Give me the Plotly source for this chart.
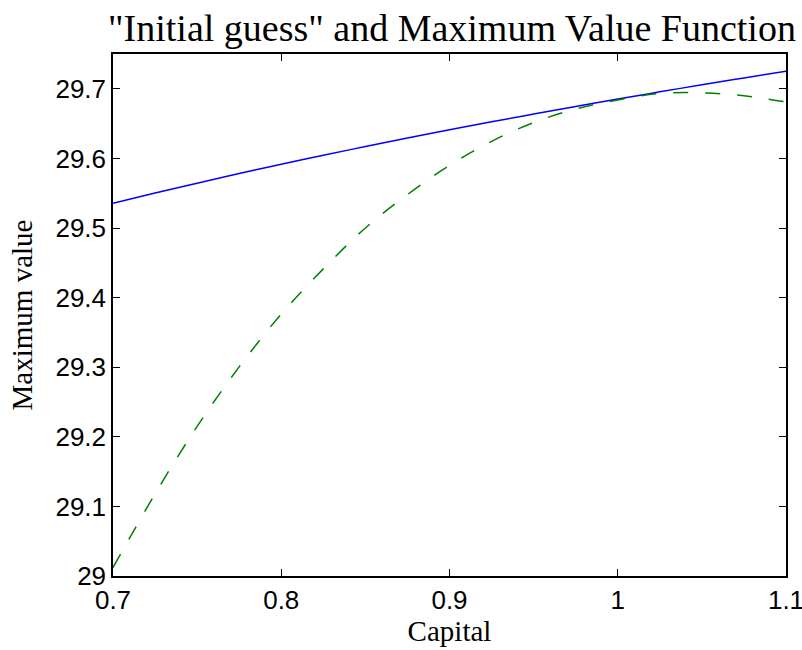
import plotly.graph_objects as go

# Data
capital_blue = [0.700, 0.725, 0.750, 0.775, 0.800, 0.825, 0.850, 0.875, 0.900,
                0.925, 0.950, 0.975, 1.000, 1.025, 1.050, 1.075, 1.100]
value_max = [29.5355, 29.5502, 29.5644, 29.5782, 29.5916, 29.6045, 29.6170, 29.6292, 29.6410,
             29.6525, 29.6637, 29.6746, 29.6853, 29.6956, 29.7058, 29.7156, 29.7253]

capital_guess = [0.700, 0.725, 0.750, 0.775, 0.800, 0.825, 0.850, 0.875, 0.900,
                 0.925, 0.950, 0.975, 1.000, 1.025, 1.050, 1.075, 1.100]
value_guess = [29.012, 29.118, 29.215, 29.3005, 29.3764, 29.4413, 29.500, 29.548, 29.590,
               29.6245, 29.6515, 29.671, 29.684, 29.6932, 29.6942, 29.690, 29.681]

x_ticks = [0.7, 0.8, 0.9, 1.0, 1.1]
x_tick_labels = ["0.7", "0.8", "0.9", "1", "1.1"]
y_ticks = [29.0, 29.1, 29.2, 29.3, 29.4, 29.5, 29.6, 29.7]
y_tick_labels = ["29", "29.1", "29.2", "29.3", "29.4", "29.5", "29.6", "29.7"]

fig = go.Figure()
fig.add_trace(go.Scatter(x=capital_blue, y=value_max, mode="lines",
                         line=dict(color="#0000ff", width=1.5, shape="spline"),
                         showlegend=False))
fig.add_trace(go.Scatter(x=capital_guess, y=value_guess, mode="lines",
                         line=dict(color="#008000", width=1.5, dash="15px,17px", shape="spline"),
                         showlegend=False))

serif = "Liberation Serif, Times New Roman, serif"
sans = "Liberation Sans, Arial, sans-serif"

fig.update_layout(
    width=802, height=650,
    margin=dict(l=113, r=16, t=54, b=74),
    plot_bgcolor="white", paper_bgcolor="white",
    title=dict(text='"Initial guess" and Maximum Value Function',
               font=dict(family=serif, size=38, color="black"),
               x=452 / 802, xanchor="center", xref="container",
               y=1 - 28 / 650, yanchor="middle", yref="container"),
    xaxis=dict(range=[0.7, 1.1], tickvals=x_ticks, ticktext=x_tick_labels,
               ticks="inside", ticklen=7, tickwidth=1, tickcolor="black",
               showline=True, linewidth=1.5, linecolor="black", mirror="ticks",
               showgrid=False, zeroline=False, ticklabeloverflow="allow",
               automargin=False,
               tickfont=dict(family=sans, size=26, color="black"),
               title=dict(text="Capital", font=dict(family=serif, size=29, color="black"),
                          standoff=6)),
    yaxis=dict(range=[29.0, 29.75], tickvals=y_ticks, ticktext=y_tick_labels,
               ticks="inside", ticklen=7, tickwidth=1, tickcolor="black",
               showline=True, linewidth=1.5, linecolor="black", mirror="ticks",
               showgrid=False, zeroline=False, ticklabeloverflow="allow",
               automargin=False,
               tickfont=dict(family=sans, size=26, color="black"),
               title=dict(text="Maximum value", font=dict(family=serif, size=29, color="black"),
                          standoff=14)),
)

fig.write_html("out.html", config={"displayModeBar": False},
               post_script="document.body.style.margin='0';document.body.style.overflow='hidden';")
